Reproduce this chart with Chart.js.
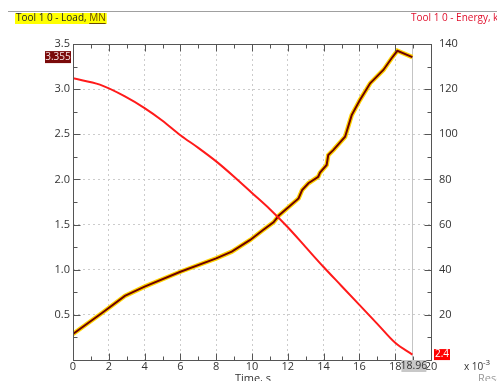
<!DOCTYPE html>
<html><head><meta charset="utf-8">
<script src="https://cdn.jsdelivr.net/npm/chart.js@4/dist/chart.umd.min.js"></script>
<style>
html,body{margin:0;padding:0;background:#fff;overflow:hidden}
canvas{display:block}
</style></head>
<body>
<canvas id="c" width="497" height="381"></canvas>
<script>
// ---- data (time in units of 1e-3 s) ----
const loadTitle = "Tool 1 0 - Load, ";
const loadUnit = "MN";
const energyTitle = "Tool 1 0 - Energy, kJ";
const xAxisTitle = "Time, s";
const xMultiplier = "x 10";
const xMultExp = "-3";
const cursorTime = 18.96;
const cursorLabel = "18.96";
const leftMarkerLabel = "3.355";
const leftMarkerValue = 3.355;
const rightMarkerLabel = "2.4";
const rightMarkerValue = 2.4;
const cornerText = "Rese";

const loadTime = [0, 1.5, 2.9, 4, 5, 6, 7, 8, 9, 10, 11, 12, 13, 14, 15, 16, 17, 18, 18.96];
const loadValues = [3.12, 3.05, 2.92, 2.79, 2.65, 2.49, 2.35, 2.20, 2.03, 1.85, 1.67, 1.47, 1.25, 1.03, 0.82, 0.61, 0.40, 0.19, 0.06];

const energyTime = [0, 1.6, 2.9, 4.0, 6.0, 8.0, 8.87, 9.9, 10.6, 11.2, 11.5, 12.6, 12.8, 13.15, 13.7, 13.8, 14.17, 14.26, 14.54, 15.2, 15.57, 16.03, 16.6, 17.34, 17.8, 18.12, 18.96];
const energyValues = [11.5, 20.7, 28.4, 32.5, 39.1, 45.0, 48.0, 53.2, 57.5, 61.0, 64.0, 71.6, 75.3, 78.3, 81.2, 83.0, 86.4, 90.8, 93.0, 98.9, 108.5, 115.2, 122.6, 128.5, 133.7, 137.0, 134.2];

const xTicks = [0, 2, 4, 6, 8, 10, 12, 14, 16, 18, 20];
const loadTicks = [0.5, 1.0, 1.5, 2.0, 2.5, 3.0, 3.5];
const energyTicks = [20, 40, 60, 80, 100, 120, 140];

const FONT = "'Open Sans', 'DejaVu Sans', sans-serif";

const pts = (xs, ys) => xs.map((x, i) => ({x, y: ys[i]}));

const decor = {
  id: 'decor',
  beforeDatasetsDraw(chart) {
    const {ctx, chartArea: a, scales} = chart;
    const x = scales.x;
    ctx.save();
    ctx.strokeStyle = '#c4c4c4';
    ctx.lineWidth = 1;
    const cx = Math.round(x.getPixelForValue(cursorTime)) + 0.5;
    ctx.beginPath(); ctx.moveTo(cx, a.top); ctx.lineTo(cx, a.bottom); ctx.stroke();
    ctx.restore();
  },
  afterDraw(chart) {
    const {ctx, chartArea: a, scales} = chart;
    const x = scales.x, y = scales.y, y1 = scales.y1;
    ctx.save();
    ctx.strokeStyle = '#a0a0a0'; ctx.lineWidth = 1;
    ctx.beginPath(); ctx.moveTo(8, 11.5); ctx.lineTo(497, 11.5); ctx.stroke();
    ctx.strokeStyle = '#555'; ctx.lineWidth = 1;
    const L = Math.round(a.left) + 0.5, R = Math.round(a.right) + 0.5, T = Math.round(a.top) + 0.5, B = Math.round(a.bottom) + 0.5;
    ctx.strokeRect(L, T, R - L, B - T);
    ctx.beginPath();
    for (let v = 0; v <= 20; v += 1) {
      const px = Math.round(x.getPixelForValue(v)) + 0.5;
      const len = v % 2 === 0 ? 7 : 4;
      ctx.moveTo(px, B); ctx.lineTo(px, B - len);
      ctx.moveTo(px, T); ctx.lineTo(px, T + len);
    }
    for (let v = 0; v <= 3.5001; v += 0.25) {
      const py = Math.round(y.getPixelForValue(v)) + 0.5;
      const len = Math.abs(v / 0.5 - Math.round(v / 0.5)) < 1e-6 ? 7 : 4;
      ctx.moveTo(L, py); ctx.lineTo(L + len, py);
    }
    for (let v = 0; v <= 140; v += 10) {
      const py = Math.round(y1.getPixelForValue(v)) + 0.5;
      const len = v % 20 === 0 ? 7 : 4;
      ctx.moveTo(R, py); ctx.lineTo(R - len, py);
    }
    ctx.stroke();

    ctx.font = '10px ' + FONT;
    ctx.textBaseline = 'middle';
    ctx.textAlign = 'left';
    const w1 = ctx.measureText(loadTitle).width, w2 = ctx.measureText(loadUnit).width;
    ctx.fillStyle = '#ffff00';
    ctx.fillRect(15, 13, w1 + w2 + 2, 11);
    ctx.fillStyle = '#222';
    ctx.fillText(loadTitle, 16, 18.5);
    ctx.fillStyle = '#6b4a00';
    ctx.fillText(loadUnit, 16 + w1, 18.5);
    ctx.strokeStyle = '#6b4a00';
    ctx.beginPath(); ctx.moveTo(16 + w1, 23.5); ctx.lineTo(16 + w1 + w2, 23.5); ctx.stroke();
    ctx.fillStyle = '#e0102c';
    ctx.fillText(energyTitle, 411, 18.5);

    const ly = y.getPixelForValue(leftMarkerValue);
    ctx.fillStyle = '#7a0a0a';
    ctx.fillRect(45, ly - 6, 26, 12);
    ctx.fillStyle = '#f4e0e0';
    ctx.textAlign = 'center';
    ctx.fillText(leftMarkerLabel, 58, ly + 0.5);
    const ry = y1.getPixelForValue(rightMarkerValue);
    ctx.fillStyle = '#ff0000';
    ctx.fillRect(434, ry - 5.5, 16, 11);
    ctx.fillStyle = '#ffffff';
    ctx.fillText(rightMarkerLabel, 442, ry);
    const cx = x.getPixelForValue(cursorTime);
    ctx.font = '10.5px ' + FONT;
    ctx.fillStyle = '#c8c8c8';
    ctx.fillRect(cx - 11, 360, 25, 12);
    ctx.fillStyle = '#333';
    ctx.fillText(cursorLabel, cx + 1.5, 366);
    ctx.textAlign = 'left';
    ctx.font = '10px ' + FONT;
    ctx.fillStyle = '#333';
    ctx.fillText(xMultiplier, 464, 367);
    ctx.font = '8px ' + FONT;
    ctx.fillText(xMultExp, 483, 363);
    ctx.font = '11px ' + FONT;
    ctx.textAlign = 'center';
    ctx.fillStyle = '#333';
    ctx.fillText(xAxisTitle, 253, 379);
    ctx.textAlign = 'left';
    ctx.fillStyle = '#999';
    ctx.fillText(cornerText, 478, 379);
    ctx.restore();
  }
};

new Chart(document.getElementById('c'), {
  type: 'line',
  data: {
    datasets: [
      {data: pts(loadTime, loadValues), yAxisID: 'y', borderColor: '#ff1a1a', borderWidth: 2, pointRadius: 0, cubicInterpolationMode: 'monotone', order: 0},
      {data: pts(energyTime, energyValues), yAxisID: 'y1', borderColor: '#6e0000', borderWidth: 2, pointRadius: 0, tension: 0, order: 1},
      {data: pts(energyTime, energyValues), yAxisID: 'y1', borderColor: '#ffd400', borderWidth: 4.5, pointRadius: 0, tension: 0, order: 2}
    ]
  },
  options: {
    responsive: false,
    animation: false,
    layout: {padding: {top: 44, left: 0, right: 0, bottom: 0}},
    plugins: {legend: {display: false}, tooltip: {enabled: false}},
    scales: {
      x: {
        type: 'linear', min: 0, max: 20,
        afterBuildTicks: s => { s.ticks = xTicks.map(v => ({value: v})); },
        afterFit: s => { s.height = 21; },
        ticks: {color: '#333', font: {family: FONT, size: 11}, padding: 0, maxRotation: 0},
        grid: {color: '#cccccc', drawTicks: false},
        border: {display: false, dash: [2, 3]}
      },
      y: {
        position: 'left', min: 0, max: 3.5,
        afterBuildTicks: s => { s.ticks = loadTicks.map(v => ({value: v})); },
        afterFit: s => { s.width = 73; },
        ticks: {color: '#333', font: {family: FONT, size: 11}, padding: 3, callback: v => v.toFixed(1)},
        grid: {color: '#cccccc', drawTicks: false},
        border: {display: false, dash: [2, 3]}
      },
      y1: {
        position: 'right', min: 0, max: 140,
        afterBuildTicks: s => { s.ticks = energyTicks.map(v => ({value: v})); },
        afterFit: s => { s.width = 66; },
        ticks: {color: '#333', font: {family: FONT, size: 11}, padding: 8},
        grid: {drawOnChartArea: false, drawTicks: false},
        border: {display: false}
      }
    }
  },
  plugins: [decor]
});
</script>
</body></html>
